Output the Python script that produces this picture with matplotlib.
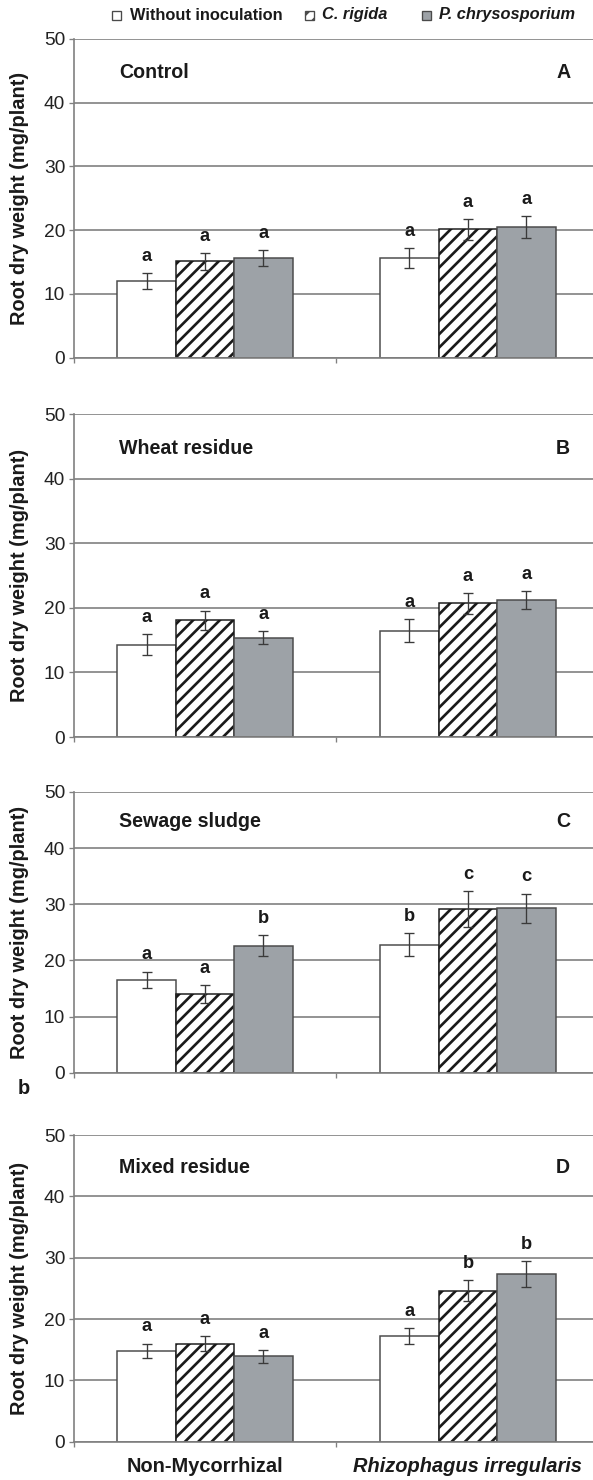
import numpy as np
import matplotlib
matplotlib.use('Agg')
import matplotlib.pyplot as plt
from matplotlib.patches import Rectangle

plt.rcParams['font.family'] = ['Liberation Sans', 'DejaVu Sans']
plt.rcParams['hatch.linewidth'] = 1.6

DPI = 120
W_PX, H_PX = 593, 1480

groups = ['Non-Mycorrhizal', 'Rhizophagus irregularis']
treatments = ['Without inoculation', 'C. rigida', 'P. chrysosporium']
panels = ['Control', 'Wheat residue', 'Sewage sludge', 'Mixed residue']
tags = ['A', 'B', 'C', 'D']

# root dry weight (mg/plant); rows = treatment, cols = [Non-Myc, R. irregularis]
control = [[12.0, 15.6], [15.1, 20.1], [15.6, 20.5]]
control_err = [[1.2, 1.6], [1.3, 1.6], [1.3, 1.7]]
control_let = [['a', 'a'], ['a', 'a'], ['a', 'a']]

wheat = [[14.3, 16.5], [18.1, 20.7], [15.4, 21.2]]
wheat_err = [[1.6, 1.8], [1.5, 1.6], [1.0, 1.4]]
wheat_let = [['a', 'a'], ['a', 'a'], ['a', 'a']]

sludge = [[16.5, 22.8], [14.0, 29.1], [22.6, 29.3]]
sludge_err = [[1.5, 2.0], [1.6, 3.2], [1.9, 2.6]]
sludge_let = [['a', 'b'], ['a', 'c'], ['b', 'c']]

mixed = [[14.8, 17.2], [16.0, 24.6], [13.9, 27.3]]
mixed_err = [[1.2, 1.3], [1.2, 1.7], [1.1, 2.1]]
mixed_let = [['a', 'a'], ['a', 'b'], ['a', 'b']]

means = [control, wheat, sludge, mixed]
errs = [control_err, wheat_err, sludge_err, mixed_err]
letters = [control_let, wheat_let, sludge_let, mixed_let]

fills = ['white', 'white', '#9da2a7']
edges = ['#4a4a4a', '#1a1a1a', '#4a4a4a']
hatches = [None, '///', None]

# panel extents in pixels (top, bottom)
boxes = [(38.7, 357.7), (414.3, 737.0), (792.0, 1072.7), (1135.0, 1441.7)]
left_px, right_px = 73.5, 599.4

fig = plt.figure(figsize=(W_PX / DPI, H_PX / DPI), dpi=DPI)

w = 1 / 4.5
x = np.arange(len(groups))
for i, (top, bot) in enumerate(boxes):
    ax = fig.add_axes([left_px / W_PX, 1 - bot / H_PX,
                       (right_px - left_px) / W_PX, (bot - top) / H_PX])
    for t in range(len(treatments)):
        xx = x + (t - 1) * w
        m = means[i][t]
        e = errs[i][t]
        ax.bar(xx, m, w, color=fills[t], edgecolor=edges[t], hatch=hatches[t],
               linewidth=0.9, zorder=2)
        ax.errorbar(xx, m, yerr=e, fmt='none', ecolor='#3a3a3a',
                    elinewidth=0.8, capsize=3, capthick=0.8, zorder=3)
        for k in range(len(groups)):
            ax.annotate(letters[i][t][k], (xx[k], m[k] + e[k]), xytext=(0, 10),
                        textcoords='offset points', ha='center', va='center',
                        fontsize=11, fontweight='bold', color='#1a1a1a')

    ax.set_xlim(-0.5, 1.5)
    ax.set_ylim(0, 50)
    ax.set_yticks(range(0, 51, 10))
    ax.yaxis.grid(True, color='#808080', linewidth=1.0)
    ax.set_axisbelow(True)
    for s in ['top', 'right']:
        ax.spines[s].set_visible(False)
    for s in ['left', 'bottom']:
        ax.spines[s].set_color('#808080')
        ax.spines[s].set_linewidth(1.0)
    ax.tick_params(axis='y', direction='out', length=3, width=0.8,
                   color='#808080', labelsize=11.5, pad=2, labelcolor='#222222')
    ax.set_xticks(x)
    ax.set_xticks([-0.5, 0.5, 1.5], minor=True)
    ax.tick_params(axis='x', which='major', length=0, pad=9)
    ax.tick_params(axis='x', which='minor', direction='out', length=3,
                   width=0.8, color='#808080')
    if i == len(boxes) - 1:
        ax.set_xticklabels(groups, fontsize=12, fontweight='bold', color='#1a1a1a')
        ax.get_xticklabels()[1].set_style('italic')
    else:
        ax.set_xticklabels(['', ''])

    ax.text(0.0865, 44.7, panels[i], transform=ax.get_yaxis_transform(),
            ha='left', va='center', fontsize=11.8, fontweight='bold', color='#1a1a1a')
    ax.text(0.931, 44.7, tags[i], transform=ax.get_yaxis_transform(),
            ha='center', va='center', fontsize=11.8, fontweight='bold', color='#1a1a1a')

    fig.text(20 / W_PX, 1 - (top + bot) / 2 / H_PX, 'Root dry weight (mg/plant)',
             rotation=90, ha='center', va='center', fontsize=12,
             fontweight='bold', color='#1a1a1a')

# stray panel letter between C and D
fig.text(23.5 / W_PX, 1 - 1088.3 / H_PX, 'b', ha='center', va='center',
         fontsize=12, fontweight='bold', color='#1a1a1a')

# legend across the top
ly = 1 - 15 / H_PX
msz = 9
for mx, tx, t in [(111.5, 130.5, 0), (305.0, 321.5, 1), (421.5, 438.7, 2)]:
    fig.add_artist(Rectangle((mx / W_PX, ly - msz / 2 / H_PX), msz / W_PX, msz / H_PX,
                             transform=fig.transFigure, facecolor=fills[t],
                             edgecolor='#4a4a4a', hatch=hatches[t], linewidth=0.8))
    fig.text(tx / W_PX, ly, treatments[t], ha='left', va='center', fontsize=9.8,
             fontweight='bold', color='#1a1a1a',
             style='normal' if t == 0 else 'italic')

fig.savefig('out.png', dpi=DPI)
